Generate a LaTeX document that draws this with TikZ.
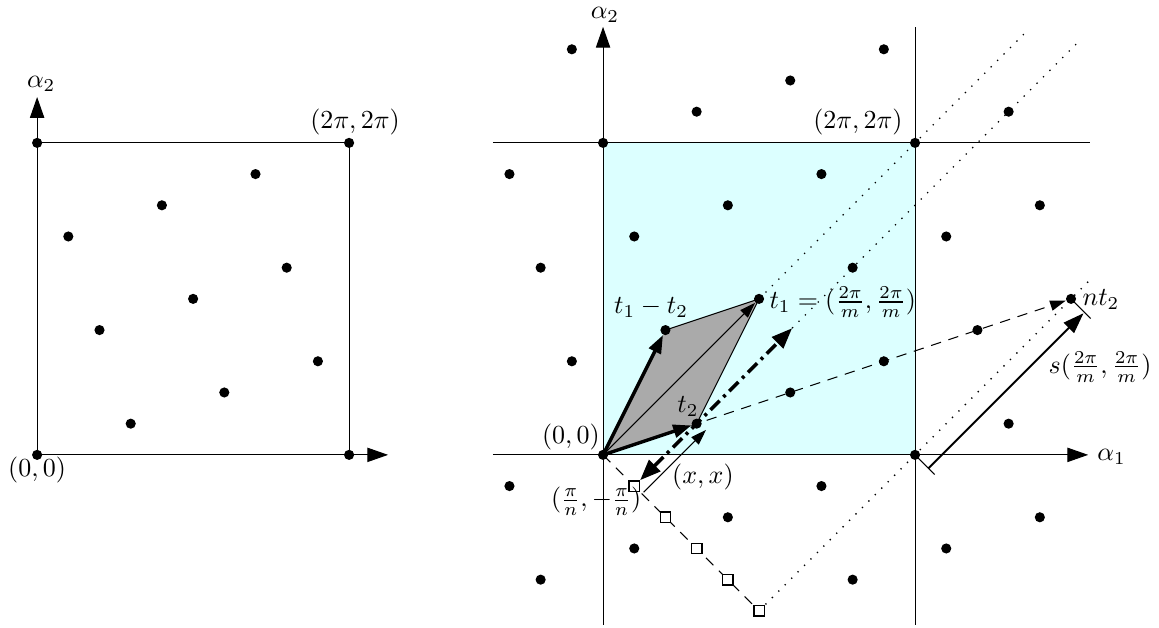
\documentclass[tikz,border=0pt]{standalone}
\usetikzlibrary{arrows.meta,backgrounds}
\definecolor{lcyan}{RGB}{220,255,255}
\definecolor{pgray}{RGB}{170,170,170}
\begin{document}
\begin{tikzpicture}[x=12pt,y=12pt,
  dot/.style={circle,fill=black,inner sep=0pt,minimum size=3.9pt},
  sqm/.style={rectangle,draw=black,fill=white,inner sep=0pt,minimum size=4pt,line width=0.5pt},
  thinl/.style={line width=0.4pt},
  axis/.style={line width=0.4pt,-{Triangle[length=8pt,width=5.5pt]}},
  tipthin/.style={line width=0.4pt,-{Triangle[length=6pt,width=4pt]}},
  tipthick/.style={line width=1.3pt,-{Triangle[length=7pt,width=5pt]}},
  dashl/.style={dash pattern=on 4pt off 3pt,line width=0.4pt},
  dotl/.style={dash pattern=on 0.5pt off 3pt,line width=0.5pt},
  dashdot/.style={line width=1.4pt,dash pattern=on 5pt off 2pt on 1.2pt off 2pt,{Triangle[length=8pt,width=6pt]}-{Triangle[length=8pt,width=6pt]}},
  lab/.style={inner sep=0pt}
]
\useasboundingbox (-19.33,-5.545) rectangle (17.82,14.58);

% ---------------- left diagram ----------------
\begin{scope}[shift={(-18.14,0)}]
  \node[dot] (L00) at (0,0) {};
  \node[dot] (L10) at (10,0) {};
  \node[dot] (L01) at (0,10) {};
  \node[dot] (L11) at (10,10) {};
  \coordinate (LX) at (11.25,0);
  \coordinate (LY) at (0,11.47);
  \foreach \i/\a/\b in {1/3/1,2/6/2,3/9/3,4/2/4,5/5/5,6/8/6,7/1/7,8/4/8,9/7/9}
    \node[dot] (lp\i) at (\a,\b) {};
\end{scope}
\begin{scope}[on background layer]
  \draw[axis] (L00.center) -- (LX);
  \draw[axis] (L00.center) -- (LY);
  \draw[thinl] (L01.center) -- (L11.center) -- (L10.center);
\end{scope}
\node[lab] (lbL22) at (-7.95,10.67) {$(2\pi,2\pi)$};
\node[lab] (lbL00) at (-18.14,-0.5) {$(0,0)$};
\node[lab] (lbLa2) at (-18.01,11.89) {$\alpha_2$};

% ---------------- right diagram ----------------
\node[dot] (O) at (0,0) {};
\node[dot] (A) at (10,0) {};
\node[dot] (B) at (0,10) {};
\node[dot] (C) at (10,10) {};
\node[dot] (T2) at (3,1) {};
\node[dot] (T1) at (5,5) {};
\node[dot] (T12) at (2,4) {};
\node[dot] (NT2) at (15,5) {};
\foreach \i/\a/\b in {1/-2/-4,2/8/-4,3/1/-3,4/11/-3,5/4/-2,6/14/-2,7/-3/-1,8/7/-1,
  9/13/1,10/6/2,11/9/3,12/-1/3,13/12/4,14/8/6,15/-2/6,16/1/7,17/11/7,18/4/8,
  19/14/8,20/7/9,21/-3/9,22/3/11,23/13/11,24/6/12,25/9/13,26/-1/13}
  \node[dot] (rp\i) at (\a,\b) {};
\foreach \k in {1,...,5}
  \node[sqm] (S\k) at (\k,-\k) {};

\coordinate (XL) at (-3.53,0);
\coordinate (XR) at (15.55,0);
\coordinate (TL) at (-3.53,10);
\coordinate (TR) at (15.6,10);
\coordinate (YB) at (0,-5.45);
\coordinate (YT) at (0,13.72);
\coordinate (VB) at (10,-5.45);
\coordinate (VT) at (10,13.7);
\coordinate (D) at (6.06,4.06);
\coordinate (E1) at (13.65,13.65);
\coordinate (E2) at (15.3,13.3);
\coordinate (E3) at (15.7,5.7);
\coordinate (XA) at (1.3,-1.2);
\coordinate (XB) at (3.3,0.8);
\coordinate (K1a) at (10.1,-0.1);
\coordinate (K1b) at (10.63,-0.63);
\coordinate (K2a) at (15.1,4.9);
\coordinate (K2b) at (15.63,4.37);
\coordinate (SA) at (10.43,-0.43);
\coordinate (SB) at (15.4,4.54);

\begin{scope}[on background layer]
  \fill[lcyan] (O.center) rectangle (C.center);
  \draw[thinl] (XL) -- (O.center);
  \draw[axis] (O.center) -- (XR);
  \draw[thinl] (TL) -- (TR);
  \draw[thinl] (YB) -- (O.center);
  \draw[axis] (O.center) -- (YT);
  \draw[thinl] (VB) -- (VT);
  % dotted lines
  \draw[dotl] (T1.center) -- (E1);
  \draw[dotl] (D) -- (E2);
  \draw[dotl] (S5.center) -- (E3);
  % dashed lines
  \draw[dashl] (O.center) -- (S5.center);
  \draw[dashl,-{Triangle[length=6pt,width=4pt]}] (O.center) -- (NT2);
  % parallelogram
  \fill[pgray] (O.center) -- (T2.center) -- (T1.center) -- (T12.center) -- cycle;
  \draw[thinl] (T12.center) -- (T1.center) -- (T2.center);
  \draw[tipthin] (O.center) -- (T1);
  \draw[tipthick] (O.center) -- (T2);
  \draw[tipthick] (O.center) -- (T12);
  % dash-dot double arrow
  \draw[dashdot] (S1) -- (D);
  % (x,x) arrow
  \draw[tipthin] (XA) -- (XB);
  % s arrow with ticks
  \draw[thinl] (K1a) -- (K1b);
  \draw[thinl] (K2a) -- (K2b);
  \draw[line width=0.8pt,-{Triangle[length=8pt,width=5.5pt]}] (SA) -- (SB);
\end{scope}

\node[lab] (lbR22) at (8.17,10.67) {$(2\pi,2\pi)$};
\node[lab] (lbR00) at (-1.03,0.58) {$(0,0)$};
\node[lab] (lbT12) at (1.54,4.71) {$t_1-t_2$};
\node[lab,anchor=west] (lbT1) at (5.32,4.9) {$t_1=(\frac{2\pi}{m},\frac{2\pi}{m})$};
\node[lab] (lbT2) at (2.72,1.54) {$t_2$};
\node[lab] (lbxx) at (3.2,-0.7) {$(x,x)$};
\node[lab] (lbpn) at (-0.22,-1.5) {$(\frac{\pi}{n},-\frac{\pi}{n})$};
\node[lab] (lbnt) at (15.96,4.97) {$nt_2$};
\node[lab] (lbs) at (15.93,2.82) {$s(\frac{2\pi}{m},\frac{2\pi}{m})$};
\node[lab] (lba1) at (16.3,-0.06) {$\alpha_1$};
\node[lab] (lba2) at (0.06,14.1) {$\alpha_2$};
\end{tikzpicture}
\end{document}
